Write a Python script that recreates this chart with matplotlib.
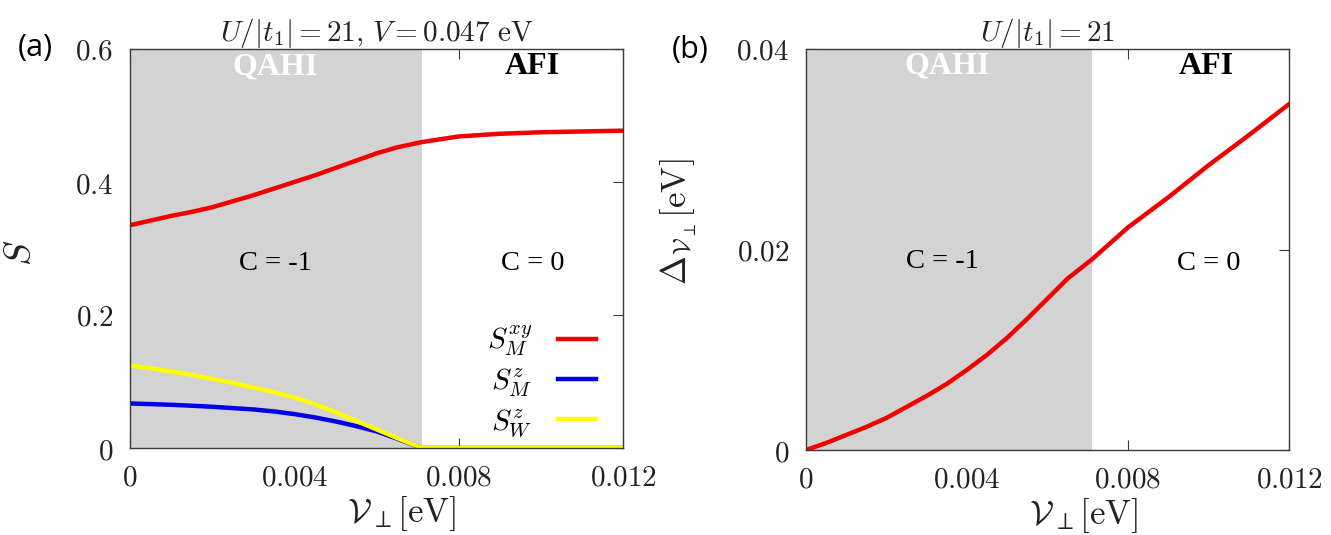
import matplotlib
matplotlib.use("Agg")
import matplotlib.pyplot as plt
from matplotlib.ticker import FuncFormatter

plt.rcParams['mathtext.fontset'] = 'cm'
plt.rcParams['font.family'] = ['DejaVu Sans']

# ---------------- data ----------------
v_perp = [0.0, 0.0005, 0.001, 0.0015, 0.002, 0.0025, 0.003, 0.0035, 0.004, 0.0045,
          0.005, 0.0055, 0.006, 0.0065, 0.0071, 0.008, 0.009, 0.010, 0.011, 0.012]
s_m_xy = [0.335, 0.342, 0.349, 0.355, 0.362, 0.371, 0.380, 0.390, 0.400, 0.410,
          0.421, 0.432, 0.443, 0.452, 0.460, 0.4685, 0.4725, 0.4748, 0.476, 0.4772]
s_m_z  = [0.067, 0.066, 0.065, 0.0636, 0.062, 0.060, 0.058, 0.055, 0.051, 0.046,
          0.040, 0.033, 0.025, 0.014, 0.0, 0.0, 0.0, 0.0, 0.0, 0.0]
s_w_z  = [0.124, 0.120, 0.115, 0.110, 0.104, 0.098, 0.091, 0.084, 0.076, 0.066,
          0.054, 0.041, 0.028, 0.015, 0.0, 0.0, 0.0, 0.0, 0.0, 0.0]
gap    = [0.0, 0.0007, 0.0015, 0.0023, 0.0032, 0.0043, 0.0054, 0.0066, 0.0080, 0.0095,
          0.0112, 0.0131, 0.0151, 0.0171, 0.0190, 0.0222, 0.0252, 0.0284, 0.0314, 0.0345]
phase_boundary = 0.0071
xticks = [0, 0.004, 0.008, 0.012]
yticks_a = [0, 0.2, 0.4, 0.6]
yticks_b = [0, 0.02, 0.04]

GRAY = '#d3d3d3'
RED = '#f20000'
BLUE = '#0000e6'
YELLOW = '#ffff00'
SPINE = '#3a3a3a'
TXT = '#222222'

fig = plt.figure(figsize=(13.31, 5.35), dpi=100)
W, H = 1331, 535
def rect(l, r, t, b):
    return [l / W, 1 - b / H, (r - l) / W, (b - t) / H]

axA = fig.add_axes(rect(130, 623, 49, 448))
axB = fig.add_axes(rect(806, 1289, 49, 450))

fmt = FuncFormatter(lambda v, p: f'${v:g}$')

def style(ax, yt, ylim):
    ax.set_xlim(0, 0.012)
    ax.set_ylim(*ylim)
    ax.set_xticks(xticks)
    ax.set_yticks(yt)
    ax.xaxis.set_major_formatter(fmt)
    ax.yaxis.set_major_formatter(fmt)
    ax.tick_params(direction='in', length=7, width=0.8, color=SPINE,
                   top=True, right=True, labelsize=21, labelcolor=TXT)
    ax.tick_params(axis='x', pad=11)
    ax.tick_params(axis='y', pad=12)
    ax.set_axisbelow(True)
    for s in ax.spines.values():
        s.set_color(SPINE)
        s.set_linewidth(1.0)
        s.set_zorder(5)
    ax.axvspan(0, phase_boundary, color=GRAY, lw=0, zorder=1)

def phase_texts(ax, y_top, y_mid, x_q, x_a, x_c1, x_c0, y_c0):
    ax.text(x_q, y_top, 'QAHI', color='white', fontsize=23, fontweight='bold',
            family='Liberation Serif', ha='center', va='center', zorder=6)
    ax.text(x_a, y_top, 'AFI', color='black', fontsize=23, fontweight='bold',
            family='Liberation Serif', ha='center', va='center', zorder=6)
    ax.text(x_c1, y_mid, 'C = -1', color='black', fontsize=20.5,
            family='Liberation Serif', ha='center', va='center', zorder=6)
    ax.text(x_c0, y_c0, 'C = 0', color='black', fontsize=20.5,
            family='Liberation Serif', ha='center', va='center', zorder=6)

# ---------- panel (a) ----------
style(axA, yticks_a, (0, 0.6))
axA.plot(v_perp, s_m_xy, color=RED, lw=3.2, zorder=3, label=r'$S_M^{xy}$')
axA.plot(v_perp, s_m_z, color=BLUE, lw=3.2, zorder=3, label=r'$S_M^{z}$')
axA.plot(v_perp, s_w_z, color=YELLOW, lw=3.2, zorder=4, label=r'$S_W^{z}$')
axA.legend(loc='center right', bbox_to_anchor=(0.975, 0.168), frameon=False,
           markerfirst=False, fontsize=21, handlelength=1.3, labelspacing=0.28,
           handletextpad=0.9, borderpad=0.0)
axA.set_title(r'$U/|t_1| = 21,\, V = 0.047\ \mathrm{eV}$', fontsize=21, pad=6, color=TXT)
axA.set_xlabel(r'$\mathcal{V}_{\perp}[\mathrm{eV}]$', fontsize=25, color=TXT, va='center')
axA.xaxis.set_label_coords(0.55, -0.163)
axA.set_ylabel(r'$S$', fontsize=27, color=TXT)
axA.yaxis.set_label_coords(-0.185, 0.49)
phase_texts(axA, 0.573, 0.277, 0.00353, 0.0098, 0.00353, 0.0098, 0.277)
fig.text(35 / W, 1 - 48 / H, '(a)', fontsize=22, ha='center', va='center', family='Open Sans')

# ---------- panel (b) ----------
style(axB, yticks_b, (0, 0.04))
axB.plot(v_perp, gap, color=RED, lw=3.2, zorder=3)
axB.set_title(r'$U/|t_1| = 21$', fontsize=21, pad=6, color=TXT)
axB.set_xlabel(r'$\mathcal{V}_{\perp}[\mathrm{eV}]$', fontsize=25, color=TXT, va='center')
axB.xaxis.set_label_coords(0.575, -0.163)
axB.set_ylabel(r'$\Delta_{\mathcal{V}_{\perp}}[\mathrm{eV}]$', fontsize=25, color=TXT)
axB.yaxis.set_label_coords(-0.222, 0.57)
phase_texts(axB, 0.0383, 0.0188, 0.0035, 0.00995, 0.0034, 0.0100, 0.0186)
fig.text(690 / W, 1 - 50 / H, '(b)', fontsize=22, ha='center', va='center', family='Open Sans')

fig.savefig('out.png', dpi=100)
